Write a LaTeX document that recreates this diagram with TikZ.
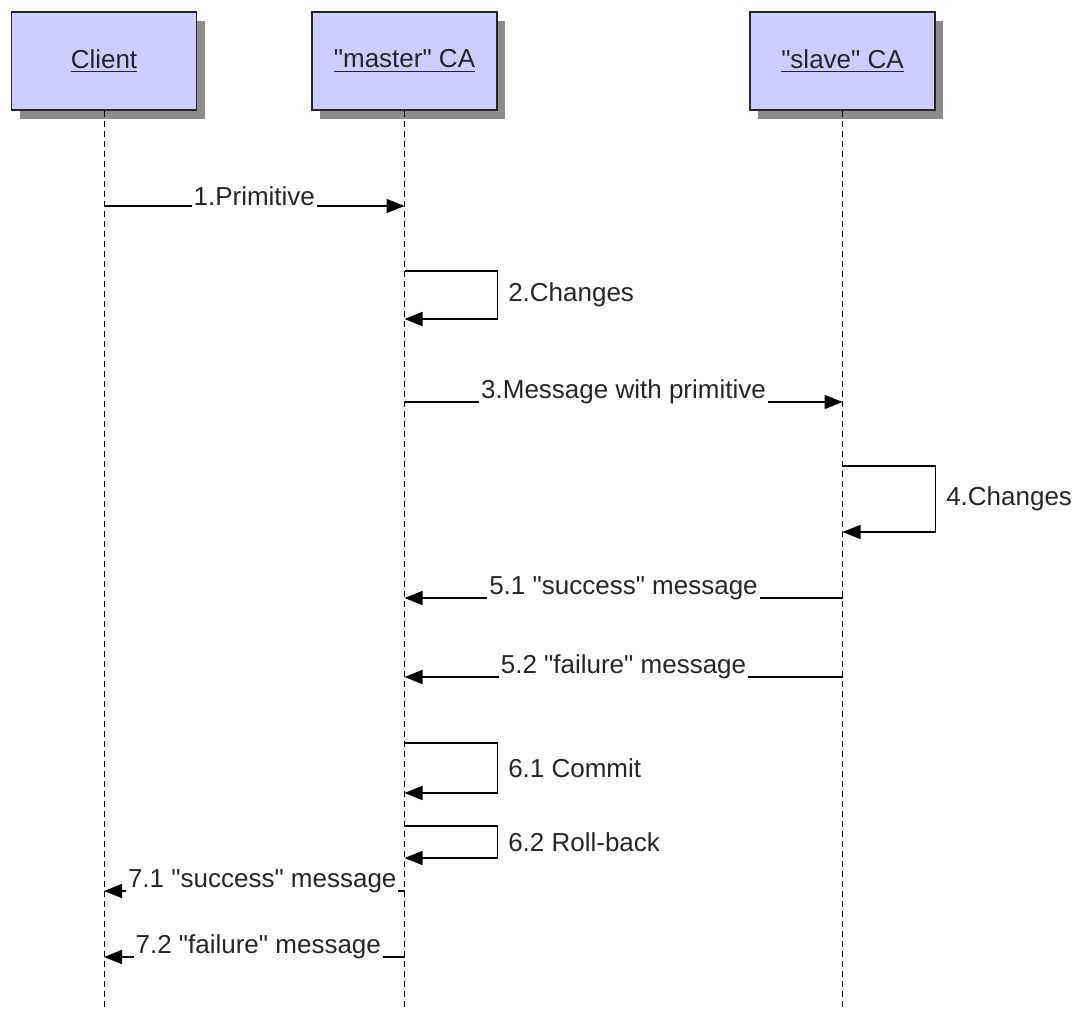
\documentclass[tikz,border=0pt]{standalone}
\usepackage{fontspec}
\setmainfont{Liberation Sans}[Ligatures=TeXOff]
\usepackage{xcolor}
\usetikzlibrary{arrows.meta,positioning,shadows}

\definecolor{boxfill}{RGB}{204,204,255}

\begin{document}
\begin{tikzpicture}[
    x=0.5pt, y=-0.5pt,
    font=\fontsize{13}{15}\selectfont,
    text=black!85,
    actor/.style={draw=black!85, line width=0.75pt, fill=boxfill, minimum width=92.5pt, minimum height=49pt,
        drop shadow={shadow xshift=4pt, shadow yshift=-4.5pt, fill=black!45, opacity=1}},
    lifeline/.style={dash pattern=on 3pt off 2pt, line width=0.5pt},
    msg/.style={-{Triangle[length=9pt,width=7pt]}, line width=0.75pt},
    lbl/.style={fill=white, inner sep=1pt, yshift=5pt},
    loopl/.style={right=5pt, inner sep=0pt}
]
\useasboundingbox (0,0) rectangle (1081,1008);

% objects
\node[actor] (client) at (104,61) {\underline{Client}};
\node[actor] (master) at (404.5,61) {\underline{"master" CA}};
\node[actor] (slave) at (842.5,61) {\underline{"slave" CA}};

% rows of the messages
\coordinate (bottom) at (0,1008);
\coordinate (r1) at (0,206);
\coordinate (r2a) at (0,271);
\coordinate (r2b) at (0,319);
\coordinate (r3) at (0,402);
\coordinate (r4a) at (0,466);
\coordinate (r4b) at (0,532);
\coordinate (r51) at (0,598);
\coordinate (r52) at (0,677);
\coordinate (r61a) at (0,743);
\coordinate (r61b) at (0,793);
\coordinate (r62a) at (0,826);
\coordinate (r62b) at (0,858);
\coordinate (r71) at (0,891);
\coordinate (r72) at (0,957);

% lifelines
\draw[lifeline] (client) -- (client |- bottom);
\draw[lifeline] (master) -- (master |- bottom);
\draw[lifeline] (slave) -- (slave |- bottom);

% messages
\draw[msg] (client |- r1) -- node[lbl] {1.Primitive} (master |- r1);
\draw[msg] (master |- r2a) -- ++(93,0) -- node[loopl] {2.Changes} ++(0,48) -- (master |- r2b);
\draw[msg] (master |- r3) -- node[lbl] {3.Message with primitive} (slave |- r3);
\draw[msg] (slave |- r4a) -- ++(93,0) -- node[loopl] {4.Changes} ++(0,66) -- (slave |- r4b);
\draw[msg] (slave |- r51) -- node[lbl] {5.1 "success" message} (master |- r51);
\draw[msg] (slave |- r52) -- node[lbl] {5.2 "failure" message} (master |- r52);
\draw[msg] (master |- r61a) -- ++(93,0) -- node[loopl] {6.1 Commit} ++(0,50) -- (master |- r61b);
\draw[msg] (master |- r62a) -- ++(93,0) -- node[loopl] {6.2 Roll-back} ++(0,32) -- (master |- r62b);
\draw[msg] (master |- r71) -- node[lbl, xshift=4pt] {7.1 "success" message} (client |- r71);
\draw[msg] (master |- r72) -- node[lbl, xshift=2pt] {7.2 "failure" message} (client |- r72);
\end{tikzpicture}
\end{document}
